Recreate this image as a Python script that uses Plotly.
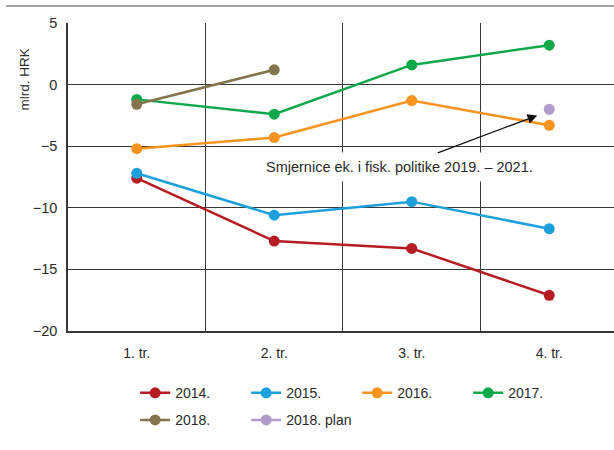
import plotly.graph_objects as go

# Quarterly balance, billions of HRK
quarters = ["1. tr.", "2. tr.", "3. tr.", "4. tr."]
y2014 = [-7.6, -12.7, -13.3, -17.1]
y2015 = [-7.2, -10.6, -9.5, -11.7]
y2016 = [-5.2, -4.3, -1.3, -3.3]
y2017 = [-1.2, -2.4, 1.6, 3.2]
y2018 = [-1.6, 1.2, None, None]
y2018_plan = [None, None, None, -2.0]

series_names = ["2014.", "2015.", "2016.", "2017.", "2018.", "2018. plan"]
series_values = [y2014, y2015, y2016, y2017, y2018, y2018_plan]
series_colors = ["#B51D23", "#1DA0DB", "#F7931E", "#10A84A", "#85744B", "#B09CCB"]
# first four series in the upper legend row, the rest in the lower one
series_legend = ["legend", "legend", "legend", "legend", "legend2", "legend2"]

y_ticks = [-20, -15, -10, -5, 0, 5]

FONT = "Liberation Sans, Arial, sans-serif"
GRID = "#383838"
TEXT = "#2a2a2a"

fig = go.Figure()
for name, vals, col, lg in zip(series_names, series_values, series_colors, series_legend):
    fig.add_trace(go.Scatter(
        x=quarters, y=vals, name=name, mode="lines+markers",
        line=dict(color=col, width=2.5),
        marker=dict(color=col, size=11),
        connectgaps=False, legend=lg,
    ))

legend_common = dict(
    orientation="h", xanchor="left", yanchor="top",
    entrywidth=66, entrywidthmode="pixels",
    font=dict(family=FONT, size=14, color=TEXT),
    traceorder="normal", bgcolor="rgba(0,0,0,0)",
)

fig.update_layout(
    width=614, height=450,
    margin=dict(l=68, r=0, t=23, b=119),
    paper_bgcolor="white", plot_bgcolor="white",
    font=dict(family=FONT, size=14, color=TEXT),
    showlegend=True,
    legend=dict(x=0.123, y=-0.15, **legend_common),
    legend2=dict(x=0.123, y=-0.238, **legend_common),
    xaxis=dict(
        type="category", categoryorder="array", categoryarray=quarters,
        range=[-0.5, 3.471], tickson="boundaries", ticks="",
        showgrid=True, gridcolor=GRID, gridwidth=1.4,
        showline=True, linecolor=GRID, linewidth=2, mirror=False,
        tickfont=dict(size=14), ticklabelstandoff=8,
    ),
    yaxis=dict(
        range=[-20, 5], tickvals=y_ticks, ticks="",
        showgrid=True, gridcolor=GRID, gridwidth=1.2,
        zeroline=True, zerolinecolor=GRID, zerolinewidth=1.2,
        showline=True, linecolor=GRID, linewidth=1.6,
        tickfont=dict(size=14.5), ticklabelstandoff=6,
    ),
)

# thin rule across the top of the figure
fig.add_shape(type="line", xref="paper", yref="paper",
              x0=-62 / 546, x1=1, y0=(331 - 6) / 308, y1=(331 - 6) / 308,
              line=dict(color="#8a8a8a", width=1.5))

# unit label at the top of the value axis
fig.add_annotation(text="mlrd. HRK", xref="paper", yref="paper",
                   x=(14 - 68) / 546, y=(331 - 47) / 308, textangle=-90,
                   showarrow=False, font=dict(size=13.5, color=TEXT))

# note pointing at the planned value
fig.add_annotation(text="Smjernice ek. i fisk. politike 2019. – 2021.",
                   x=2.913, y=-2.5, xref="x", yref="y",
                   ax=-138, ay=52, showarrow=True,
                   arrowhead=2, arrowsize=1.5, arrowwidth=1.3, arrowcolor="#111",
                   bgcolor="white", borderpad=6,
                   font=dict(size=14.5, color=TEXT))

fig.write_html("out.html")
